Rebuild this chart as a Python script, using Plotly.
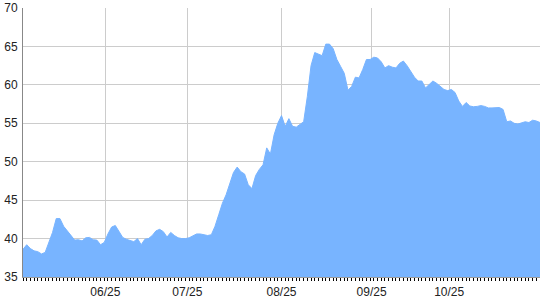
import plotly.graph_objects as go

values = [
    38.6, 39.2, 38.7, 38.4, 38.3, 38.0, 38.2, 39.6, 40.8, 42.6,
    42.6, 41.6, 41.0, 40.4, 39.8, 39.85, 39.7, 40.1, 40.15, 39.85,
    39.8, 39.2, 39.5, 40.6, 41.5, 41.7, 41.0, 40.15, 39.9, 39.7,
    39.6, 40.0, 39.2, 39.9, 40.0, 40.4, 41.0, 41.2, 40.9, 40.2,
    40.8, 40.4, 40.1, 40.0, 40.0, 40.1, 40.4, 40.6, 40.6, 40.5,
    40.4, 40.5, 41.6, 43.1, 44.6, 45.7, 47.2, 48.6, 49.3, 48.7,
    48.4, 47.0, 46.5, 48.2, 49.0, 49.6, 51.8, 51.0, 53.5, 55.0,
    56.0, 54.6, 55.6, 54.6, 54.5, 54.8, 55.2, 58.5, 62.5, 64.2,
    64.0, 63.8, 65.3, 65.3, 64.7, 63.3, 62.4, 61.5, 59.3, 59.8,
    61.0, 60.9, 62.0, 63.3, 63.3, 63.6, 63.5, 63.0, 62.2, 62.5,
    62.3, 62.2, 62.8, 63.1, 62.5, 61.8, 61.0, 60.5, 60.5, 59.6,
    60.1, 60.5, 60.2, 59.8, 59.4, 59.25, 59.4, 59.0, 57.9, 57.2,
    57.7, 57.25, 57.15, 57.2, 57.3, 57.2, 57.0, 57.0, 57.0, 57.05,
    56.8, 55.2, 55.3, 55.0, 54.9, 55.1, 55.2, 55.1, 55.4, 55.3,
    55.1,
]
day_index = list(range(len(values)))

month_labels = ["06/25", "07/25", "08/25", "09/25", "10/25"]
month_positions = [22.3, 44.5, 70.0, 94.4, 115.4]

y_ticks = [35, 40, 45, 50, 55, 60, 65, 70]

fig = go.Figure()
fig.add_trace(go.Scatter(
    x=day_index, y=values, mode="lines",
    fill="tozeroy", fillcolor="#78B4FF",
    line=dict(color="#78B4FF", width=1),
    hoverinfo="skip", showlegend=False,
))

fig.update_layout(
    width=540, height=300,
    margin=dict(l=23, r=0, t=8, b=23),
    paper_bgcolor="white", plot_bgcolor="white",
    font=dict(family="Arial, Liberation Sans, sans-serif", size=12, color="#222222"),
    xaxis=dict(
        range=[0, len(values) - 1],
        tickmode="array", tickvals=month_positions, ticktext=month_labels,
        ticks="outside", ticklen=4, tickcolor="rgba(0,0,0,0)",
        showgrid=True, gridcolor="#cccccc", gridwidth=1,
        showline=True, linecolor="#999999", linewidth=1,
        zeroline=False,
        minor=dict(tickmode="linear", tick0=0, dtick=1, ticks="outside",
                   ticklen=3, tickcolor="#000000", tickwidth=1, showgrid=False),
    ),
    yaxis=dict(
        range=[35, 70],
        tickmode="array", tickvals=y_ticks,
        showgrid=True, gridcolor="#cccccc", gridwidth=1,
        showline=True, linecolor="#888888", linewidth=1,
        zeroline=False, ticks="", ticklabelstandoff=2,
    ),
)

fig.write_html("out.html")
